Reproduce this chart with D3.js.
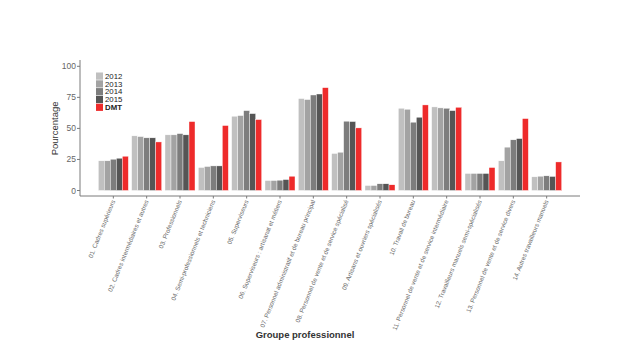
<!DOCTYPE html>
<html>
<head>
<meta charset="utf-8">
<script src="https://cdn.jsdelivr.net/npm/d3@7"></script>
<style>
body { margin: 0; background: #fff; }
text { font-family: "Liberation Sans", Arial, sans-serif; }
</style>
</head>
<body>
<div id="chart"></div>
<script>
// data
categories = [
	'01. Cadres supérieurs',
	'02. Cadres intermédiaires et autres',
	'03. Professionnels',
	'04. Semi-professionnels et techniciens',
	'05. Superviseurs',
	'06. Superviseurs : artisanat et métiers',
	'07. Personnel administratif et de bureau principal',
	'08. Personnel de vente et de service spécialisé',
	'09. Artisans et ouvriers spécialisés',
	'10. Travail de bureau',
	'11. Personnel de vente et de service intermédiaire',
	'12. Travailleurs manuels semi-spécialisés',
	'13. Personnel de vente et de service divers',
	'14. Autres travailleurs manuels'
];
series = ['2012', '2013', '2014', '2015', 'DMT'];
v2012 = [23.9, 44.0, 44.8, 18.5, 59.8, 8.0, 74.0, 29.8, 4.0, 66.2, 67.3, 13.7, 23.9, 11.0];
v2013 = [23.9, 43.4, 44.8, 19.3, 60.3, 8.0, 73.2, 30.8, 4.0, 65.4, 66.5, 13.7, 34.9, 11.5];
v2014 = [25.2, 42.4, 45.8, 19.8, 64.3, 8.3, 76.9, 55.8, 5.4, 55.0, 66.2, 13.7, 40.8, 11.8];
v2015 = [26.0, 42.4, 44.8, 19.8, 61.9, 8.8, 77.7, 55.5, 5.4, 59.0, 64.3, 13.7, 41.8, 11.3];
vDMT  = [27.6, 39.1, 55.5, 52.3, 57.1, 11.5, 82.8, 50.4, 4.6, 68.9, 67.0, 18.5, 57.9, 23.0];
y_ticks = [0, 25, 50, 75, 100];

values = [v2012, v2013, v2014, v2015, vDMT];
colors = ['#c0c0c0', '#a3a3a3', '#7d7d7d', '#555555', '#ee2b2b'];

// layout
width = 624;
height = 351;
left = 80;
right = 580;
y0 = 190.5;
y100 = 66.3;
axis_y = 196;

var svg = d3.select('#chart')
	.append('svg')
	.attr('width', width)
	.attr('height', height);

// scales
x_scale = d3.scaleBand()
	.domain(categories)
	.range([left, right])
	.paddingOuter(0.55)
	.paddingInner(0.1);

x_inner = d3.scaleBand()
	.domain(series)
	.range([0, x_scale.bandwidth()]);

y_scale = d3.scaleLinear()
	.domain([0, 100])
	.range([y0, y100]);

// bars
var groups = svg.selectAll('g.grp')
	.data(categories)
	.enter()
	.append('g')
	.attr('class', 'grp')
	.attr('transform', (d) => 'translate(' + x_scale(d) + ',0)');

groups.selectAll('rect')
	.data((d, i) => series.map((s, j) => ({ s: s, v: values[j][i], j: j })))
	.enter()
	.append('rect')
	.attr('x', (d) => x_inner(d.s))
	.attr('y', (d) => y_scale(d.v))
	.attr('width', x_inner.bandwidth())
	.attr('height', (d) => y0 - y_scale(d.v))
	.attr('fill', (d) => colors[d.j])
	.attr('stroke', '#fff')
	.attr('stroke-width', 0.4);

// y axis
svg.append('line')
	.attr('x1', left).attr('x2', left)
	.attr('y1', 60).attr('y2', axis_y)
	.attr('stroke', '#7a7a7a').attr('stroke-width', 1);

svg.selectAll('.ytick')
	.data(y_ticks)
	.enter()
	.append('line')
	.attr('x1', left - 3).attr('x2', left)
	.attr('y1', (d) => y_scale(d)).attr('y2', (d) => y_scale(d))
	.attr('stroke', '#7a7a7a');

svg.selectAll('.ylab')
	.data(y_ticks)
	.enter()
	.append('text')
	.attr('x', left - 4)
	.attr('y', (d) => y_scale(d) + 3)
	.attr('text-anchor', 'end')
	.attr('font-size', 8.5)
	.attr('fill', '#666')
	.text((d) => d);

svg.append('text')
	.attr('transform', 'translate(58,' + (y0 + y100) / 2 + ') rotate(-90)')
	.attr('text-anchor', 'middle')
	.attr('font-size', 9.5)
	.attr('fill', '#333')
	.text('Pourcentage');

// x axis
svg.append('line')
	.attr('x1', left).attr('x2', right)
	.attr('y1', axis_y).attr('y2', axis_y)
	.attr('stroke', '#7a7a7a').attr('stroke-width', 1);

svg.selectAll('.xtick')
	.data(categories)
	.enter()
	.append('line')
	.attr('x1', (d) => x_scale(d) + x_scale.bandwidth() / 2)
	.attr('x2', (d) => x_scale(d) + x_scale.bandwidth() / 2)
	.attr('y1', axis_y).attr('y2', axis_y + 2.5)
	.attr('stroke', '#7a7a7a');

svg.selectAll('.xlab')
	.data(categories)
	.enter()
	.append('text')
	.attr('transform', (d) => 'translate(' + (x_scale(d) + x_scale.bandwidth() / 2 + 2) + ',' + (axis_y + 5) + ') rotate(-68)')
	.attr('text-anchor', 'end')
	.attr('font-size', 6.3)
	.attr('fill', '#666')
	.text((d) => d);

svg.append('text')
	.attr('x', 305)
	.attr('y', 338)
	.attr('text-anchor', 'middle')
	.attr('font-size', 9.5)
	.attr('font-weight', 'bold')
	.attr('fill', '#333')
	.text('Groupe professionnel');

// legend
var legend = svg.selectAll('.leg')
	.data(series)
	.enter()
	.append('g')
	.attr('transform', (d, i) => 'translate(96,' + (72.5 + i * 7.8) + ')');

legend.append('rect')
	.attr('width', 7)
	.attr('height', 7.2)
	.attr('fill', (d, i) => colors[i]);

legend.append('text')
	.attr('x', 9)
	.attr('y', 6.3)
	.attr('font-size', 7.8)
	.attr('fill', '#222')
	.attr('font-weight', (d) => d == 'DMT' ? 'bold' : 'normal')
	.text((d) => d);
</script>
</body>
</html>
